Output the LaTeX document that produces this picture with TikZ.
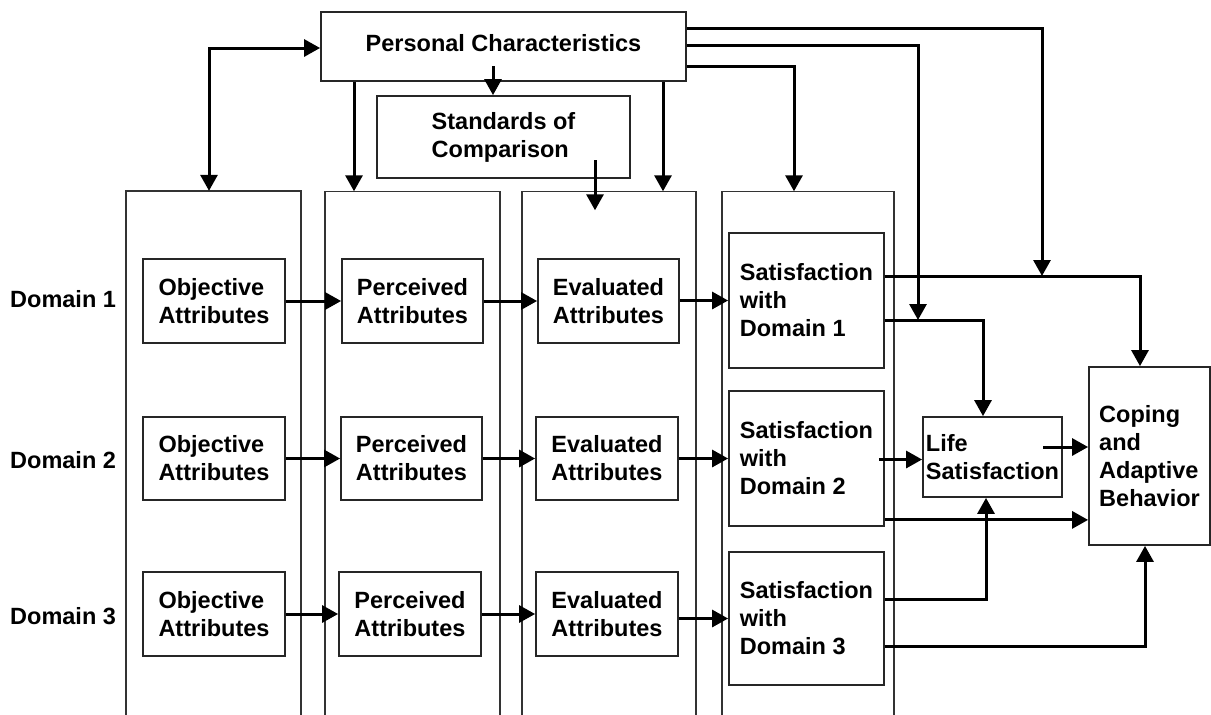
\documentclass[tikz,border=0pt]{standalone}
\usepackage{fontspec}
\setmainfont{Liberation Sans}
\usetikzlibrary{arrows.meta}
\begin{document}
\begin{tikzpicture}[x=1pt,y=-1pt,
  >={Triangle[length=16pt,width=17pt]},
  txt/.style={font=\bfseries\fontsize{23.5}{28}\selectfont},
  box/.style={txt, draw=black!85, line width=1.8pt, inner sep=0pt, align=left},
  col/.style={inner sep=0pt, minimum height=524pt},
  colline/.style={draw=black!80, line width=1.6pt},
  arr/.style={line width=3pt, ->},
  darr/.style={line width=3pt, <->},
  lbl/.style={txt, anchor=west, inner sep=0pt}]
\useasboundingbox (0,0) rectangle (1211,715);

% top boxes
\node[box, minimum width=365pt, minimum height=69pt, text height=17pt, text depth=8pt] (pc) at (503.5,46.5) {Personal Characteristics};
\node[box, minimum width=253pt, minimum height=82pt] (std) at (503.5,137) {Standards of\\Comparison};

% columns
\node[col, minimum width=175pt] (col1) at (213.5,453) {};
\node[col, minimum width=175pt] (col2) at (412.5,453.5) {};
\node[col, minimum width=174pt] (col3) at (609,453.5) {};
\node[col, minimum width=172pt] (col4) at (808,453.5) {};
\foreach \c in {col1,col2,col3,col4}
  \draw[colline] (\c.south west) -- (\c.north west) -- (\c.north east) -- (\c.south east);

% domain labels
\node[lbl] (d1) at (10,299) {Domain 1};
\node[lbl] (d2) at (10,460) {Domain 2};
\node[lbl] (d3) at (10,616) {Domain 3};

% objective
\node[box, minimum width=142pt, minimum height=84pt] (obj1) at (214,301) {Objective\\Attributes};
\node[box, minimum width=142pt, minimum height=83pt] (obj2) at (214,458.5) {Objective\\Attributes};
\node[box, minimum width=142pt, minimum height=84pt] (obj3) at (214,614) {Objective\\Attributes};
% perceived
\node[box, minimum width=141pt, minimum height=84pt] (per1) at (412.5,301) {Perceived\\Attributes};
\node[box, minimum width=141pt, minimum height=83pt] (per2) at (411.5,458.5) {Perceived\\Attributes};
\node[box, minimum width=142pt, minimum height=84pt] (per3) at (410,614) {Perceived\\Attributes};
% evaluated
\node[box, minimum width=141pt, minimum height=84pt] (ev1) at (608.5,301) {Evaluated\\Attributes};
\node[box, minimum width=142pt, minimum height=83pt] (ev2) at (607,458.5) {Evaluated\\Attributes};
\node[box, minimum width=142pt, minimum height=84pt] (ev3) at (607,614) {Evaluated\\Attributes};
% satisfaction
\node[box, minimum width=155pt, minimum height=135pt] (sat1) at (806.5,300.5) {Satisfaction\\with\\Domain 1};
\node[box, minimum width=155pt, minimum height=135pt] (sat2) at (806.5,458.5) {Satisfaction\\with\\Domain 2};
\node[box, minimum width=155pt, minimum height=133pt] (sat3) at (806.5,618.5) {Satisfaction\\with\\Domain 3};
% life satisfaction and coping
\node[box, minimum width=139pt, minimum height=80pt] (life) at (992.5,457) {Life\\Satisfaction};
\node[box, minimum width=121pt, minimum height=178pt] (cope) at (1149.5,456) {Coping\\and\\Adaptive\\Behavior};

% row arrows
\foreach \a/\b in {obj1/per1,per1/ev1,ev1/sat1,obj2/per2,per2/ev2,ev2/sat2,obj3/per3,per3/ev3,ev3/sat3}
  \draw[arr] (\a.east |- \b.west) -- (\b.west);

% personal characteristics arrows
\draw[darr] ([yshift=-1.5pt]pc.west) -| ([xshift=-4.5pt]col1.north);
\draw[arr] ([xshift=-58.5pt]col2.north |- pc.south) -- ([xshift=-58.5pt]col2.north);
\draw[arr] ([xshift=-10.5pt,yshift=-19.5pt]pc.center) -- ([xshift=-10.5pt]std.north);
\draw[arr] ([xshift=91.5pt,yshift=-23pt]std.center) -- ([xshift=-14pt,yshift=-19pt]col3.north);
\draw[arr] ([xshift=54pt]col3.north |- pc.south) -- ([xshift=54pt]col3.north);

\coordinate (pcA) at ([yshift=18.5pt]pc.east);
\coordinate (pcB) at ([yshift=1.5pt]pc.east);
\coordinate (pcC) at ([yshift=-19.5pt]pc.east);
\coordinate (s1a) at ([yshift=24.5pt]sat1.east);
\coordinate (s1b) at ([yshift=-19.5pt]sat1.east);
\coordinate (jA) at (s1a -| 1042,0);
\coordinate (jB) at (s1b -| 918,0);

\draw[arr] (pcC) -| ([xshift=-14pt]col4.north);
\draw[arr] (pcB) -| (jB);
\draw[arr] (pcA) -| (jA);

% satisfaction to outcomes
\draw[arr] (s1a) -| ([xshift=-9.5pt]cope.north);
\draw[arr] (s1b) -| ([xshift=-9.5pt]life.north);
\coordinate (s2a) at ([xshift=-6pt,yshift=-1pt]sat2.east);
\draw[arr] (s2a) -- (s2a -| life.west);
\coordinate (lsx) at ([xshift=50.5pt,yshift=10pt]life.center);
\draw[arr] (lsx) -- (lsx -| cope.west);
\coordinate (s2b) at ([yshift=7pt]sat2.south east);
\draw[arr] (s2b) -- (s2b -| cope.west);
\draw[arr] ([yshift=19.5pt]sat3.east) -| ([xshift=-6.5pt]life.south);
\draw[arr] ([yshift=-27.5pt]sat3.east) -| ([xshift=-4.5pt]cope.south);
\end{tikzpicture}
\end{document}
